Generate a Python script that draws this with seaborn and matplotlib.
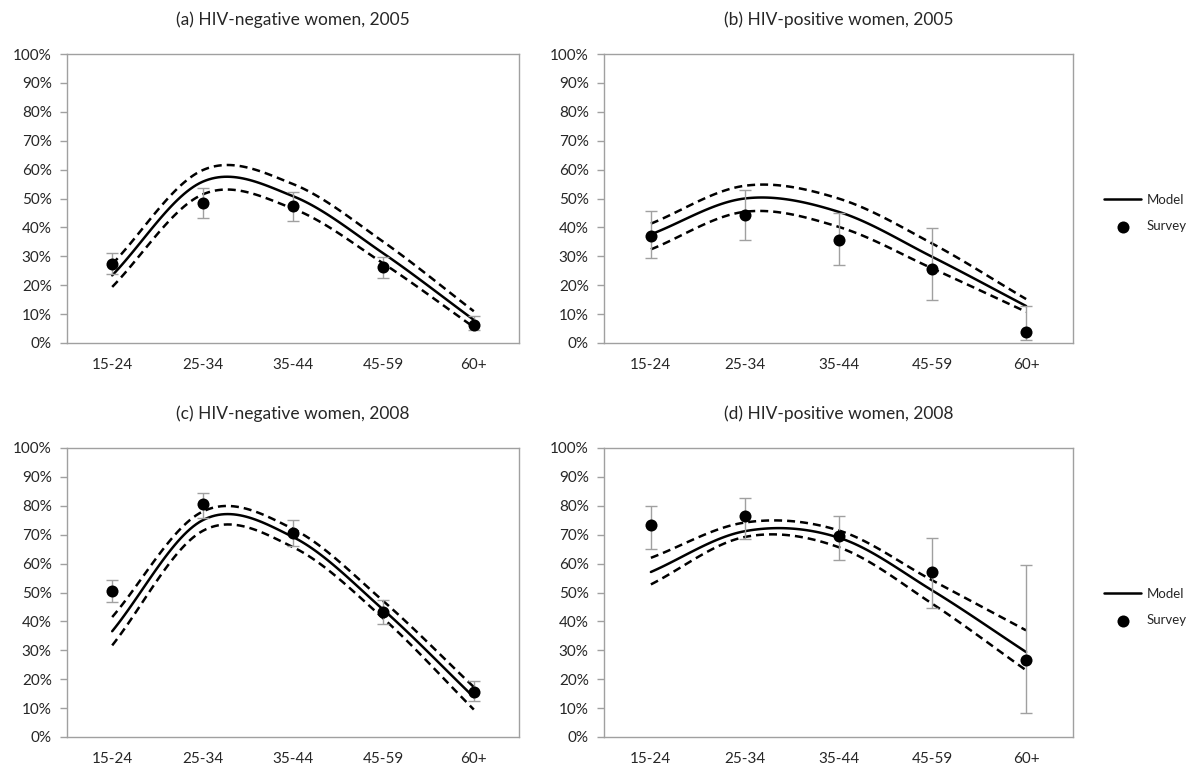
import numpy as np
import pandas as pd
import matplotlib
matplotlib.use('Agg')
import matplotlib.pyplot as plt
import seaborn as sns

# age groups (x categories)
ages = ['15-24', '25-34', '35-44', '45-59', '60+']

# (a) HIV-negative women, 2005  (values in %)
neg05_model = [23.4, 55.8, 50.8, 31.0, 8.0]
neg05_upper = [27.3, 59.8, 55.0, 35.0, 11.0]
neg05_lower = [19.4, 51.4, 46.5, 27.5, 5.5]
neg05_survey = [27.5, 48.3, 47.5, 26.2, 6.4]
neg05_hi = [31.0, 53.5, 52.3, 29.8, 9.4]
neg05_lo = [24.0, 43.3, 42.3, 22.6, 4.6]

# (b) HIV-positive women, 2005
pos05_model = [37.6, 50.0, 45.4, 29.8, 12.8]
pos05_upper = [41.3, 54.4, 50.0, 34.4, 15.2]
pos05_lower = [32.4, 45.4, 40.2, 25.8, 10.8]
pos05_survey = [37.1, 44.2, 35.8, 25.5, 3.8]
pos05_hi = [45.6, 52.9, 45.0, 39.8, 12.8]
pos05_lo = [29.4, 35.6, 26.9, 15.0, 0.9]

# (c) HIV-negative women, 2008
neg08_model = [36.6, 75.0, 69.2, 44.0, 13.8]
neg08_upper = [41.5, 78.0, 72.0, 47.0, 17.3]
neg08_lower = [31.7, 71.3, 65.7, 41.0, 9.5]
neg08_survey = [50.5, 80.5, 70.7, 43.3, 15.6]
neg08_hi = [54.4, 84.3, 75.0, 47.5, 19.4]
neg08_lo = [46.7, 75.9, 66.0, 39.0, 12.4]

# (d) HIV-positive women, 2008
pos08_model = [57.1, 71.2, 69.0, 50.7, 29.4]
pos08_upper = [62.0, 74.2, 71.5, 54.2, 36.9]
pos08_lower = [52.8, 69.2, 65.7, 46.1, 23.1]
pos08_survey = [73.2, 76.5, 69.6, 57.2, 26.8]
pos08_hi = [79.9, 82.6, 76.5, 69.0, 59.6]
pos08_lo = [65.2, 68.6, 61.4, 44.5, 8.3]

titles = ['(a) HIV-negative women, 2005', '(b) HIV-positive women, 2005',
          '(c) HIV-negative women, 2008', '(d) HIV-positive women, 2008']


def smooth(vals, n=30):
    # Excel style smoothed line (Catmull-Rom through the category points)
    vals = list(vals)
    p = np.r_[2 * vals[0] - vals[1], vals, 2 * vals[-1] - vals[-2]]
    xs, ys = [], []
    for i in range(1, len(p) - 2):
        t = np.linspace(0, 1, n)
        m1 = (p[i + 1] - p[i - 1]) / 2
        m2 = (p[i + 2] - p[i]) / 2
        h00 = 2 * t**3 - 3 * t**2 + 1
        h10 = t**3 - 2 * t**2 + t
        h01 = -2 * t**3 + 3 * t**2
        h11 = t**3 - t**2
        ys.append(h00 * p[i] + h10 * m1 + h01 * p[i + 1] + h11 * m2)
        xs.append(i - 1 + t)
    return np.concatenate(xs), np.concatenate(ys)


sns.set_style('white')
plt.rcParams['font.family'] = ['Lato', 'DejaVu Sans']

fig = plt.figure(figsize=(11.89, 7.72), dpi=100)
W, H = 1189, 772
boxes = [(67, 54, 519, 343), (604, 54, 1073, 343),
         (67, 448, 519, 737), (604, 448, 1073, 737)]
panels = [
    (neg05_model, neg05_upper, neg05_lower, neg05_survey, neg05_hi, neg05_lo),
    (pos05_model, pos05_upper, pos05_lower, pos05_survey, pos05_hi, pos05_lo),
    (neg08_model, neg08_upper, neg08_lower, neg08_survey, neg08_hi, neg08_lo),
    (pos08_model, pos08_upper, pos08_lower, pos08_survey, pos08_hi, pos08_lo),
]
grey = '#a0a0a0'
xpos = np.arange(len(ages))

for k, (box, pan) in enumerate(zip(boxes, panels)):
    x0, y0, x1, y1 = box
    ax = fig.add_axes([x0 / W, 1 - y1 / H, (x1 - x0) / W, (y1 - y0) / H])
    model, upper, lower, surv, hi, lo = pan

    for band in (upper, lower):
        bx, by = smooth(band)
        sns.lineplot(x=bx, y=by, ax=ax, color='black', lw=1.8, sort=False,
                     linestyle=(0, (3.2, 2.0)), estimator=None)
    mx, my = smooth(model)
    sns.lineplot(x=mx, y=my, ax=ax, color='black', lw=1.8, sort=False,
                 estimator=None, label='Model')

    surv = np.array(surv)
    ax.errorbar(xpos, surv, yerr=[surv - np.array(lo), np.array(hi) - surv],
                fmt='none', ecolor=grey, elinewidth=1, capsize=4, capthick=1, zorder=3)
    sns.scatterplot(x=xpos, y=surv, ax=ax, color='black', s=75, edgecolor='black',
                    linewidth=0, zorder=4, label='Survey')

    ax.set_xlim(-0.5, 4.5)
    ax.set_ylim(0, 100)
    ax.set_yticks(np.arange(0, 101, 10))
    ax.set_yticklabels([f'{v}%' for v in range(0, 101, 10)])
    ax.set_xticks(xpos)
    ax.set_xticklabels(ages)
    ax.set_xticks(np.arange(-0.5, 5, 1), minor=True)
    ax.tick_params(axis='x', which='major', length=0, pad=11, labelsize=11)
    ax.tick_params(axis='x', which='minor', length=5, width=1, color=grey, direction='out')
    ax.tick_params(axis='y', length=5, width=1, color=grey, direction='out', pad=6,
                   labelsize=11, left=True)
    for sp in ax.spines.values():
        sp.set_color(grey)
        sp.set_linewidth(1)
    ax.set_title(titles[k], fontsize=12.5, pad=21)
    ax.set_xlabel('')
    ax.set_ylabel('')

    handles, labels = ax.get_legend_handles_labels()
    if k % 2 == 1:
        ax.legend(handles, labels, loc='center left', bbox_to_anchor=(1.055, 0.45),
                  frameon=False, handlelength=2.8, handletextpad=0.4,
                  labelspacing=1.1, fontsize=9.5, borderaxespad=0)
    else:
        ax.get_legend().remove()

plt.savefig('out.png', dpi=100)
